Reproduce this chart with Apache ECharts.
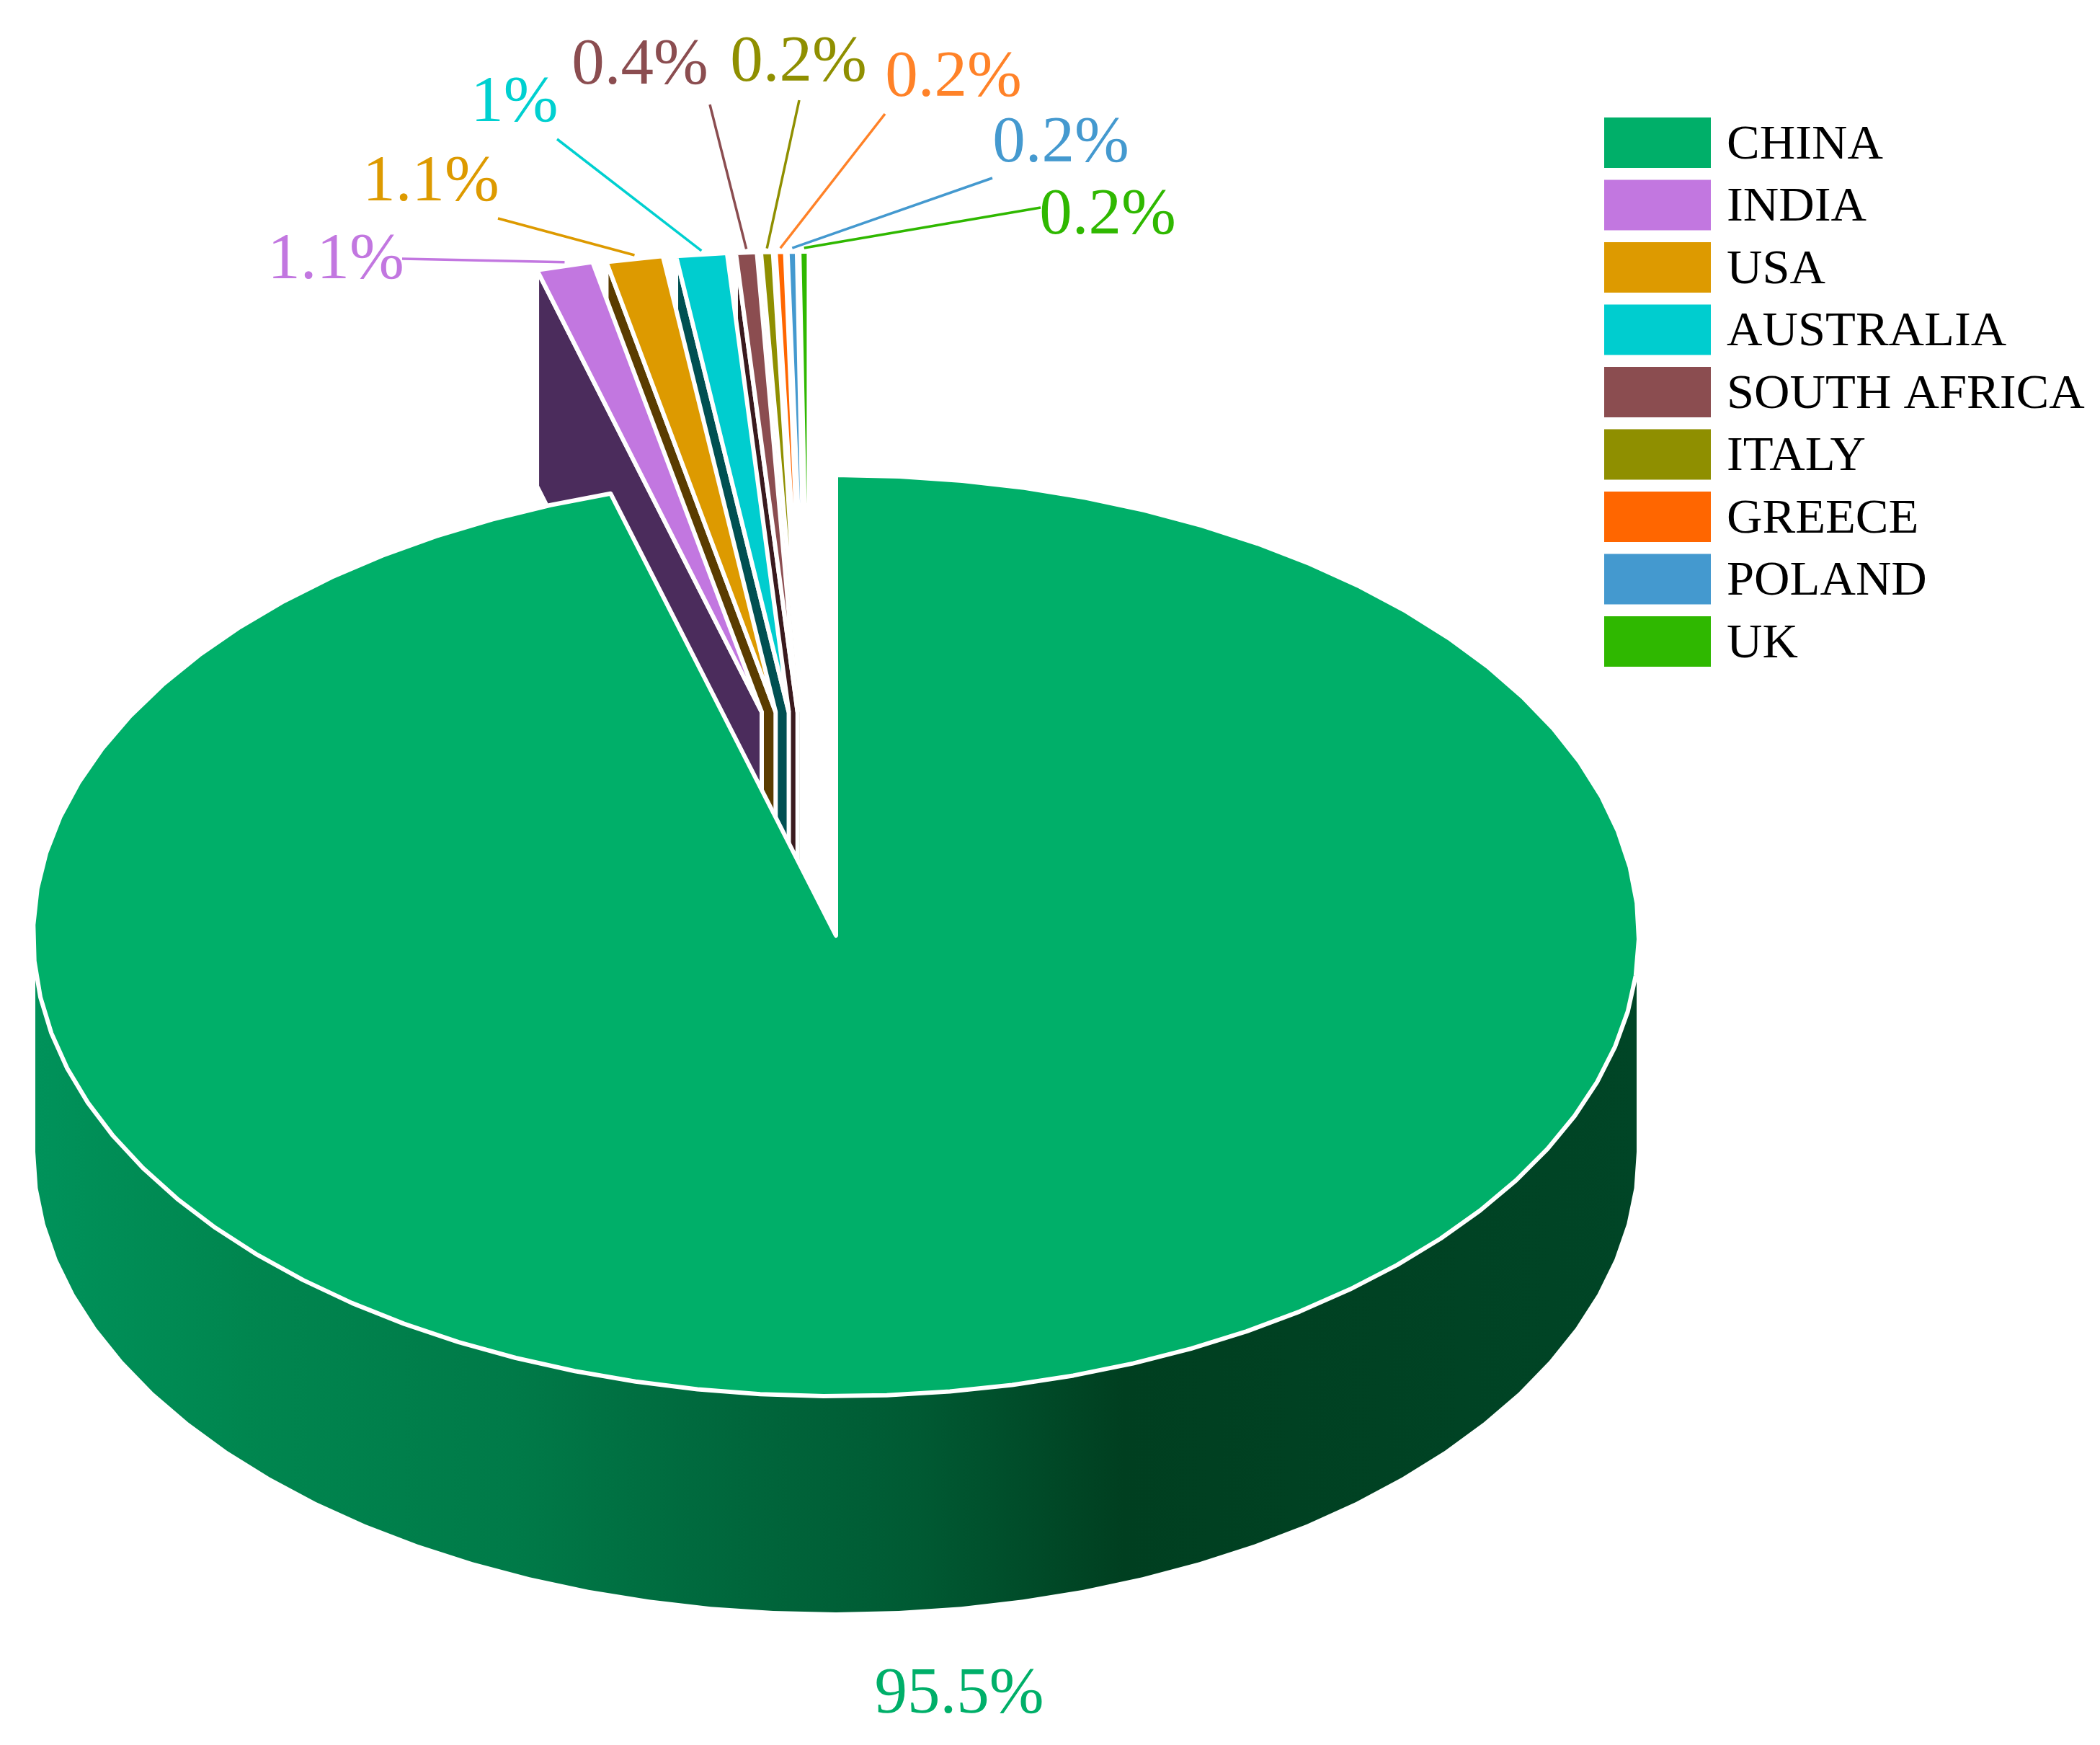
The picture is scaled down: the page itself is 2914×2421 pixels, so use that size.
<!DOCTYPE html>
<html>
<head>
<meta charset="utf-8">
<title>Share by country</title>
<script src="https://cdn.jsdelivr.net/npm/echarts@6/dist/echarts.min.js"></script>
<style>
html, body { margin: 0; padding: 0; background: #fff; }
#main { width: 2914px; height: 2421px; }
</style>
</head>
<body>
<div id="main"></div>
<script>
// values
var countries = ['CHINA', 'INDIA', 'USA', 'AUSTRALIA', 'SOUTH AFRICA', 'ITALY', 'GREECE', 'POLAND', 'UK'];
var shares = [95.48, 1.14, 1.14, 1.02, 0.42, 0.24, 0.19, 0.19, 0.19];
var colors = ['#00af69', '#c277e0', '#dd9a00', '#00cdcf', '#8b4d50', '#8f8f00', '#ff6600', '#4499cf', '#2fb800'];
var sideColors = ['#006b3c', '#4b2c5c', '#5a3c00', '#005052', '#3a1a1e', '#353500', '#5e2600', '#193850', '#114400'];
var labelColors = ['#00af69', '#c277e0', '#dd9a00', '#00d0d0', '#8b4d50', '#8f8f00', '#ff8228', '#4499cf', '#2fb800'];

// layout of the tilted pie, in pixels
var cx = 1160, cy = 1298, rx = 1111, ry = 639, depth = 300;
var pullY = -310, pullX0 = -36, pullXPerDeg = -4.7;
var labelPos = [[1331, 2352], [466, 362], [598, 254], [714, 144], [888, 92], [1108, 88], [1323, 109], [1472, 200], [1537, 300]];
var lineStart = [null, [558, 359], [691, 303], [773, 193], [985, 145], [1109, 139], [1228, 158], [1377, 247], [1444, 288]];

var total = shares.reduce(function (a, b) { return a + b; }, 0);
var starts = [];
shares.reduce(function (a, b, i) { starts[i] = a; return a + b; }, 0);

function rimPoint(deg, ox, oy, grow) {
    var t = deg * Math.PI / 180;
    return [cx + ox + (rx + (grow || 0)) * Math.sin(t), cy + oy - ry * Math.cos(t)];
}

function arcPoints(from, to, ox, oy, grow) {
    var pts = [], n = Math.max(1, Math.round((to - from) / 4.5));
    for (var k = 0; k <= n; k++) {
        pts.push(rimPoint(from + (to - from) * k / n, ox, oy, grow));
    }
    return pts;
}

var wallFill = new echarts.graphic.LinearGradient(cx - rx, 0, cx + rx, 0, [
    { offset: 0, color: '#00925a' },
    { offset: 0.13, color: '#00864f' },
    { offset: 0.3, color: '#007a48' },
    { offset: 0.41, color: '#006a3e' },
    { offset: 0.55, color: '#005a33' },
    { offset: 0.68, color: '#003f20' },
    { offset: 1, color: '#004526' }
], true);

function renderSlice(params, api) {
    var i = params.seriesIndex;
    var from = starts[i] / total * 360;
    var to = (starts[i] + api.value(0)) / total * 360;
    var mid = (from + to) / 2;
    var children = [];
    var ox = 0, oy = 0;

    if (i > 0) {
        ox = pullX0 + pullXPerDeg * (360 - mid);
        oy = pullY;
        var corner = rimPoint(from, ox, oy);
        var apex = [cx + ox, cy + oy];
        children.push({
            type: 'polygon',
            z2: 20 - i,
            shape: { points: [corner, apex, [apex[0], apex[1] + depth], [corner[0], corner[1] + depth]] },
            style: { fill: sideColors[i], stroke: '#fff', lineWidth: 6 }
        });
    } else {
        // the wall starts a little under the widest point of the rim
        var front = arcPoints(95, 265, 0, 0);
        var lower = arcPoints(90, 270, 0, depth).reverse();
        var wall = [[cx + rx, front[0][1]]].concat(front, [[cx - rx, front[0][1]]], lower);
        children.push({
            type: 'polygon',
            z2: 30,
            shape: { points: wall },
            style: { fill: wallFill }
        });
    }

    children.push({
        type: 'polygon',
        z2: i > 0 ? 25 : 31,
        shape: { points: [[cx + ox, cy + oy]].concat(arcPoints(from, to, ox, oy, i > 0 ? 0 : 3)) },
        style: { fill: colors[i], stroke: '#fff', lineWidth: 6, lineJoin: i > 0 ? 'miter' : 'round' }
    });

    if (lineStart[i]) {
        var end = rimPoint(mid, ox, oy);
        children.push({
            type: 'line',
            z2: 50,
            shape: { x1: lineStart[i][0], y1: lineStart[i][1], x2: end[0], y2: end[1] - 5 },
            style: { stroke: labelColors[i], lineWidth: 3.5 }
        });
    }

    children.push({
        type: 'text',
        z2: 50,
        x: labelPos[i][0],
        y: labelPos[i][1],
        style: {
            text: parseFloat(api.value(0).toFixed(1)) + '%',
            fill: labelColors[i],
            fontFamily: 'Liberation Serif',
            fontSize: 91,
            align: 'center',
            verticalAlign: 'middle'
        }
    });

    return { type: 'group', children: children };
}

var dom = document.getElementById('main');
var myChart = echarts.init(dom);

var option = {
    backgroundColor: '#fff',
    animation: false,
    legend: {
        orient: 'vertical',
        left: 2221,
        top: 158,
        icon: 'rect',
        itemWidth: 148,
        itemHeight: 70,
        itemGap: 13,
        selectedMode: false,
        data: countries,
        formatter: '{t|{name}}',
        textStyle: {
            color: '#000',
            fontFamily: 'Liberation Serif',
            fontSize: 68.5,
            rich: {
                t: {
                    color: '#000',
                    fontFamily: 'Liberation Serif',
                    fontSize: 68.5,
                    padding: [8, 0, 0, 17]
                }
            }
        }
    },
    series: countries.map(function (name, i) {
        return {
            type: 'custom',
            name: name,
            coordinateSystem: 'none',
            silent: true,
            itemStyle: { color: colors[i] },
            renderItem: renderSlice,
            data: [[shares[i]]]
        };
    })
};

myChart.setOption(option);
</script>
</body>
</html>
